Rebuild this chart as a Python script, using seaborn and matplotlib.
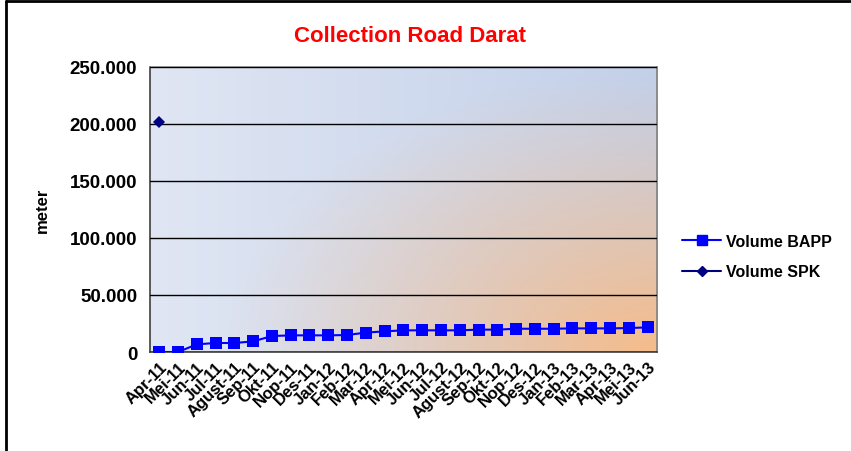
import numpy as np
import pandas as pd
import seaborn as sns
import matplotlib.pyplot as plt
from matplotlib.ticker import FuncFormatter
from matplotlib.lines import Line2D

months = ["Apr-11", "Mei-11", "Jun-11", "Jul-11", "Agust-11", "Sep-11", "Okt-11",
          "Nop-11", "Des-11", "Jan-12", "Feb-12", "Mar-12", "Apr-12", "Mei-12",
          "Jun-12", "Jul-12", "Agust-12", "Sep-12", "Okt-12", "Nop-12", "Des-12",
          "Jan-13", "Feb-13", "Mar-13", "Apr-13", "Mei-13", "Jun-13"]
volume_bapp = [0, 0, 6700, 7900, 7900, 9300, 14000, 14600, 14600, 14600, 14900,
               17000, 18100, 19000, 19000, 19000, 19000, 19600, 19600, 20400,
               20400, 20400, 20700, 20700, 20700, 21000, 21600]
volume_spk = [202000] + [np.nan] * 26

df = pd.DataFrame({"bulan": months, "BAPP": volume_bapp, "SPK": volume_spk})
df["x"] = range(len(months))

sns.set_style("white")
plt.rcParams["font.family"] = ["Liberation Sans", "DejaVu Sans"]
plt.rcParams["text.color"] = "black"
plt.rcParams["xtick.color"] = "black"
plt.rcParams["ytick.color"] = "black"
plt.rcParams["axes.labelcolor"] = "black"

fig = plt.figure(figsize=(8.51, 4.52), dpi=100)
ax = fig.add_axes([0.176, 0.219, 0.596, 0.631])

# latar gradasi biru -> oranye di pojok kanan bawah
ny, nx = 200, 300
gx, gy = np.meshgrid(np.linspace(0, 1, nx), np.linspace(1, 0, ny))
blue_l = np.array([224, 230, 243]) / 255
blue_r = np.array([194, 208, 234]) / 255
orange = np.array([246, 188, 138]) / 255
base = blue_l[None, None, :] * (1 - gx[..., None]) + blue_r[None, None, :] * gx[..., None]
d = np.sqrt(((1 - gx) * 1.5) ** 2 + (gy * 1.3) ** 2)
w = np.clip(1 - d / 1.3, 0, 1) ** 1.1
img = base * (1 - w[..., None]) + orange[None, None, :] * w[..., None]
ax.imshow(img, extent=[0, 1, 0, 1], transform=ax.transAxes, aspect="auto", zorder=0)

sns.lineplot(data=df, x="x", y="BAPP", ax=ax, color="#0000FF", marker="s",
             markersize=8, markeredgewidth=0, linewidth=1.5, zorder=3)
sns.lineplot(data=df, x="x", y="SPK", ax=ax, color="#000080", marker="D",
             markersize=6, markeredgewidth=0, linewidth=1.5, zorder=3)

ax.set_xlim(-0.5, len(months) - 0.5)
ax.set_ylim(0, 250000)
ax.set_yticks(range(0, 250001, 50000))
ax.yaxis.set_major_formatter(FuncFormatter(lambda v, p: f"{int(v):,}".replace(",", ".")))
ax.grid(axis="y", color="black", linewidth=1)
ax.set_axisbelow(False)
ax.set_xticks(df["x"])
ax.set_xticklabels(months, rotation=45, ha="right", rotation_mode="anchor",
                   fontsize=12, fontweight="bold")
for lab in ax.get_yticklabels():
    lab.set_fontsize(13.5)
    lab.set_fontweight("bold")
ax.tick_params(axis="x", length=0, pad=5)
ax.tick_params(axis="y", length=0, pad=9)
ax.set_xlabel("")
ax.set_ylabel("meter", fontsize=12, fontweight="bold", labelpad=14)
for s in ax.spines.values():
    s.set_color("#808080")
    s.set_linewidth(1.2)
ax.spines["left"].set_color("#404040")
ax.spines["bottom"].set_color("#404040")

fig.text(0.482, 0.92, "Collection Road Darat", color="#FF0000", fontsize=16,
         fontweight="bold", ha="center", va="center")

handles = [Line2D([], [], color="#0000FF", marker="s", markersize=7, lw=1.5),
           Line2D([], [], color="#000080", marker="D", markersize=5, lw=1.5)]
leg = fig.legend(handles, ["Volume BAPP", "Volume SPK"], loc="center left",
                 bbox_to_anchor=(0.785, 0.43), frameon=False, handlelength=2.4,
                 handletextpad=0.3, labelspacing=0.95,
                 prop={"weight": "bold", "size": 11.5})

# bingkai chart hanya kelihatan di kiri dan atas (terpotong)
fig.add_artist(Line2D([0.007, 0.007], [0, 0.996], transform=fig.transFigure,
                      color="black", linewidth=2))
fig.add_artist(Line2D([0.007, 1], [0.996, 0.996], transform=fig.transFigure,
                      color="black", linewidth=2))

fig.savefig("out.png", dpi=100)
